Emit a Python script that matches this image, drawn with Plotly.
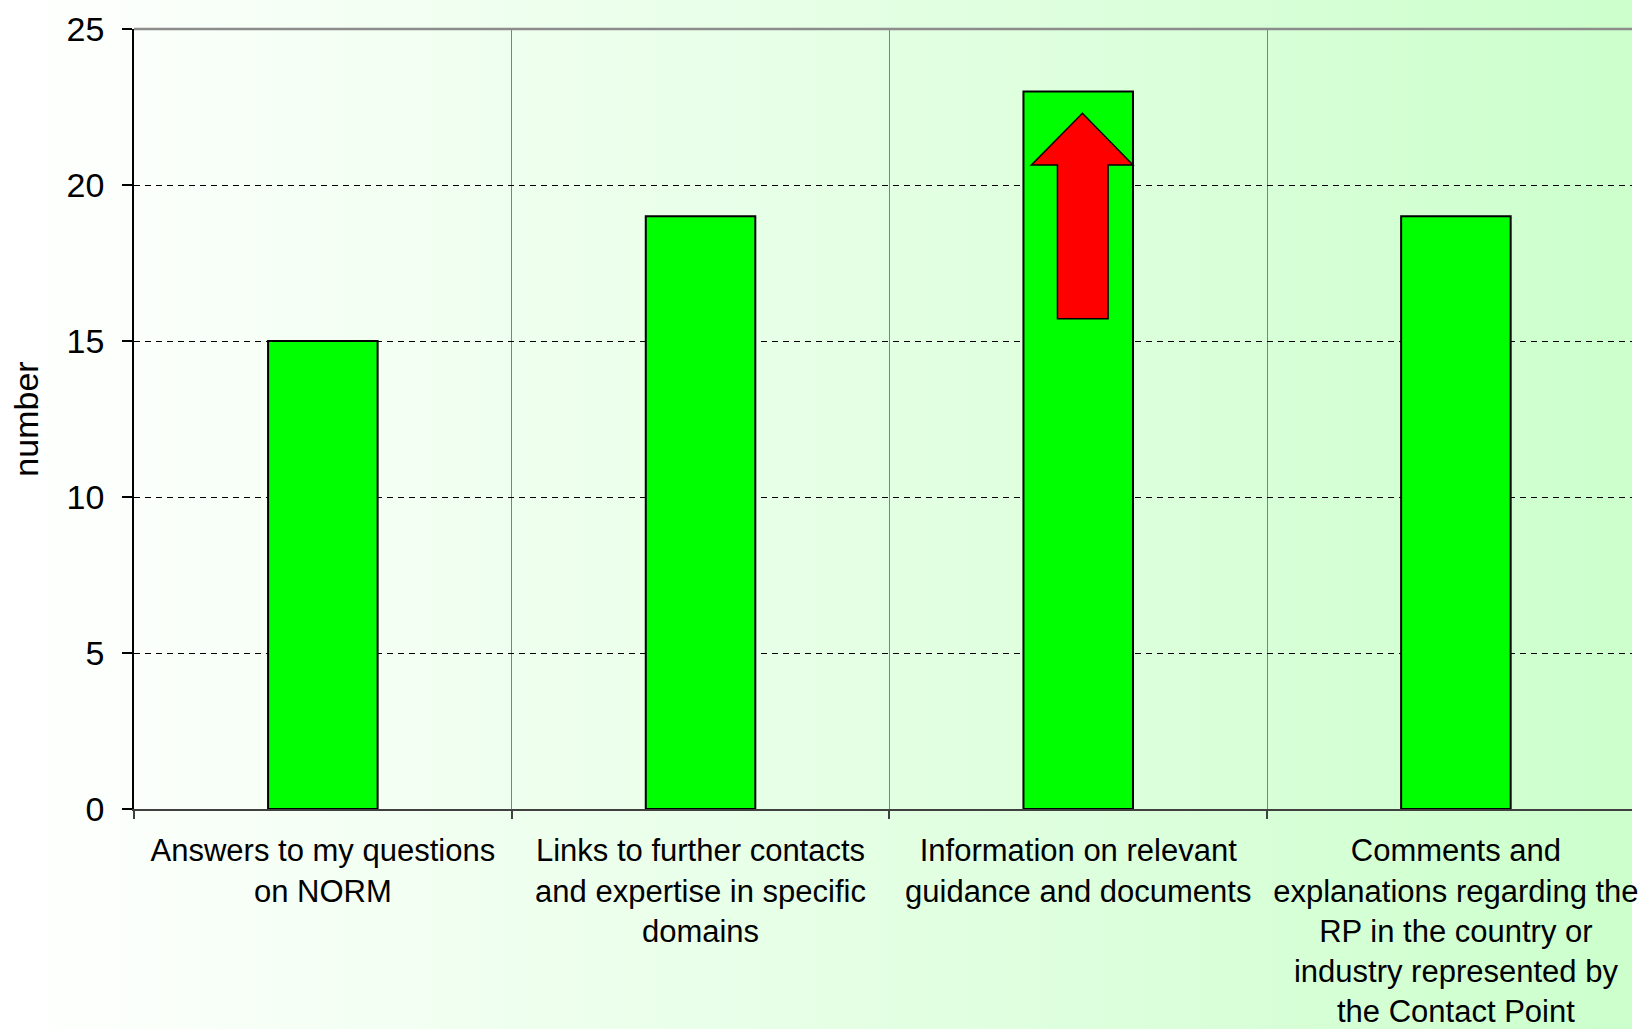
import base64
import plotly.graph_objects as go

categories = [
    "Answers to my questions<br>on NORM",
    "Links to further contacts<br>and expertise in specific<br>domains",
    "Information on relevant<br>guidance and documents",
    "Comments and<br>explanations regarding the<br>RP in the country or<br>industry represented by<br>the Contact Point",
]
values = [15, 19, 23, 19]
y_ticks = [0, 5, 10, 15, 20, 25]
# arrow annotation polygon (data units: category index, value)
arrow_x = [2.011, 2.145, 2.079, 2.079, 1.945, 1.945, 1.876]
arrow_y = [22.30, 20.64, 20.64, 15.71, 15.71, 20.64, 20.64]

W, H = 1638, 1029
ML, MR, MT, MB = 134, 0, 29, 220
PW, PH = W - ML - MR, H - MT - MB

xpos = list(range(len(categories)))

fig = go.Figure()
fig.add_trace(go.Bar(
    x=xpos, y=values, width=0.29,
    marker=dict(color="#00ff00", line=dict(color="black", width=2)),
    hoverinfo="y",
))

path = "M " + " L ".join(f"{a},{b}" for a, b in zip(arrow_x, arrow_y)) + " Z"
shapes = [
    dict(type="path", xref="x", yref="y", path=path,
         fillcolor="#ff0000", line=dict(color="black", width=1.5), layer="above"),
    dict(type="line", xref="paper", yref="paper", x0=0, x1=1, y0=1, y1=1,
         line=dict(color="#8c8c8c", width=2.5), layer="above"),
]

svg = f'''<svg xmlns="http://www.w3.org/2000/svg" width="{W}" height="{H}" preserveAspectRatio="none">
<defs><linearGradient id="g" x1="0" y1="0" x2="1" y2="0">
<stop offset="0" stop-color="#ffffff"/><stop offset="1" stop-color="#ccffcc"/>
</linearGradient></defs><rect width="{W}" height="{H}" fill="url(#g)"/></svg>'''
src = "data:image/svg+xml;base64," + base64.b64encode(svg.encode()).decode()

fig.update_layout(
    width=W, height=H,
    margin=dict(l=ML, r=MR, t=MT, b=MB),
    paper_bgcolor="#ffffff",
    plot_bgcolor="#ffffff",
    showlegend=False,
    font=dict(family="Arial, Liberation Sans, sans-serif", color="black"),
    shapes=shapes,
    images=[dict(source=src, xref="paper", yref="paper",
                 x=-ML / PW, y=1 + MT / PH, sizex=W / PW, sizey=H / PH,
                 xanchor="left", yanchor="top", sizing="stretch", layer="below")],
    xaxis=dict(
        range=[-0.5, -0.5 + PW / 379.2],
        tickmode="array", tickvals=xpos, ticktext=categories,
        ticks="", showgrid=False, zeroline=False,
        showline=True, linecolor="#404040", linewidth=2,
        tickfont=dict(size=31),
        ticklabelstandoff=13,
        ticklabeloverflow="allow",
        minor=dict(tickmode="array", tickvals=[-0.5, 0.5, 1.5, 2.5],
                   showgrid=True, gridcolor="#808080", gridwidth=1,
                   ticks="outside", ticklen=8, tickcolor="#404040", tickwidth=1.5),
    ),
    yaxis=dict(
        range=[0, 25], tickmode="array", tickvals=y_ticks,
        ticks="outside", ticklen=10, tickcolor="black", tickwidth=1.5,
        showline=True, linecolor="black", linewidth=1.5,
        showgrid=True, gridcolor="black", gridwidth=1, griddash="6px,5px",
        zeroline=False,
        tickfont=dict(size=34),
        ticklabelstandoff=11,
        title=dict(text="number", font=dict(size=34), standoff=18),
    ),
)

fig.write_html(
    "out.html",
    config={"displayModeBar": False},
    post_script="document.body.style.margin='0';document.body.style.overflow='hidden';",
)
